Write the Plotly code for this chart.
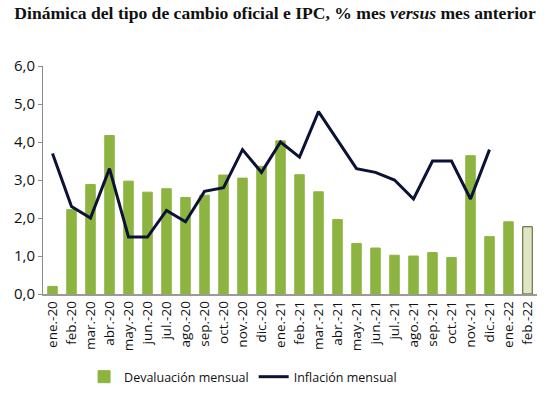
import plotly.graph_objects as go

categories = ["ene.-20","feb.-20","mar.-20","abr.-20","may.-20","jun.-20","jul.-20","ago.-20",
              "sep.-20","oct.-20","nov.-20","dic.-20","ene.-21","feb.-21","mar.-21","abr.-21",
              "may.-21","jun.-21","jul.-21","ago.-21","sep.-21","oct.-21","nov.-21","dic.-21",
              "ene.-22","feb.-22"]
devaluacion = [0.2, 2.22, 2.88, 4.17, 2.97, 2.68, 2.77, 2.54, 2.6, 3.13, 3.05, 3.36, 4.03,
               3.14, 2.69, 1.96, 1.33, 1.21, 1.02, 1.0, 1.09, 0.96, 3.64, 1.51, 1.9, 1.77]
inflacion = [3.7, 2.3, 2.0, 3.3, 1.5, 1.5, 2.2, 1.9, 2.7, 2.8, 3.8, 3.2, 4.0, 3.6, 4.8, 4.05,
             3.3, 3.2, 3.0, 2.5, 3.5, 3.5, 2.5, 3.8, None, None]
y_ticks = [0, 1, 2, 3, 4, 5, 6]

green = "#8db440"
bar_colors = [green] * (len(categories) - 1) + ["#dfe6c6"]
bar_lines = [green] * (len(categories) - 1) + ["#4f5a22"]

fig = go.Figure()
fig.add_trace(go.Bar(
    x=categories, y=devaluacion, name="Devaluación mensual",
    marker=dict(color=bar_colors, line=dict(color=bar_lines, width=1)),
))
fig.add_trace(go.Scatter(
    x=categories, y=inflacion, name="Inflación mensual", mode="lines",
    line=dict(color="#0b1236", width=3), connectgaps=False,
))

fig.update_layout(
    width=550, height=394,
    paper_bgcolor="white", plot_bgcolor="white",
    margin=dict(l=43, r=13, t=66, b=100, autoexpand=False),
    bargap=0.5,
    separators=",.",
    font=dict(family="'Open Sans', sans-serif", color="#111", size=13),
    title=dict(
        text="<b>Dinámica del tipo de cambio oficial e IPC, % mes <i>versus</i> mes anterior</b>",
        font=dict(family="Liberation Serif, 'Times New Roman', serif", size=17.6, color="#111"),
        x=0.5, xanchor="center", xref="container", y=0.967, yanchor="middle", yref="container",
    ),
    showlegend=True,
    legend=dict(orientation="h", x=0.405, xanchor="center", y=0.043, yanchor="middle",
                yref="container", font=dict(size=12.5), itemwidth=30, traceorder="normal"),
)
fig.update_xaxes(
    tickangle=-90, showgrid=False, showline=True, linecolor="#9a9a9a", linewidth=1.5,
    tickfont=dict(size=13.5), ticks="", automargin=False,
)
fig.update_yaxes(
    range=[0, 6], tickvals=y_ticks, tickformat=".1f", showgrid=False,
    showline=True, linecolor="#8a8a8a", linewidth=1, ticks="outside", ticklen=4,
    tickcolor="#8a8a8a", zeroline=False, tickfont=dict(size=15), automargin=False,
)

fig.write_html("out.html", config={"displayModeBar": False},
               post_script="document.body.style.margin='0';")
